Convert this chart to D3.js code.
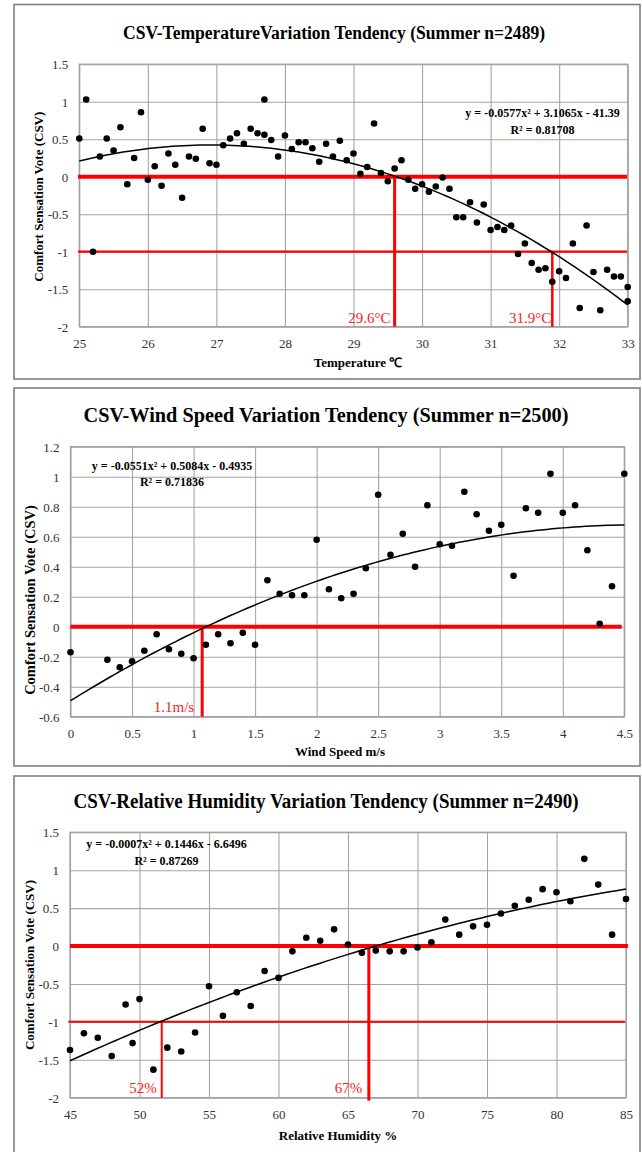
<!DOCTYPE html>
<html><head><meta charset="utf-8">
<script src="https://cdn.jsdelivr.net/npm/d3@7"></script>
<style>body{margin:0;background:#fff} svg{display:block}</style>
</head><body>
<svg id="c" width="642" height="1152"></svg>
<script>
// ---------- DATA ----------
const tempTitle = "CSV-TemperatureVariation Tendency (Summer n=2489)";
const tempX = [25,25.1,25.2,25.3,25.4,25.5,25.6,25.7,25.8,25.9,26,26.1,26.2,26.3,26.4,26.5,26.6,26.7,26.8,26.9,27,27.1,27.2,27.3,27.4,27.5,27.6,27.7,27.7,27.8,27.9,28,28.1,28.2,28.3,28.4,28.5,28.6,28.7,28.8,28.9,29,29.1,29.2,29.3,29.4,29.5,29.6,29.7,29.8,29.9,30,30.1,30.2,30.3,30.4,30.5,30.6,30.7,30.8,30.9,31,31.1,31.2,31.3,31.4,31.5,31.6,31.7,31.8,31.9,32,32.1,32.2,32.3,32.4,32.5,32.6,32.7,32.8,32.9,33,33];
const tempCSV = [0.51,1.03,-1.0,0.27,0.51,0.35,0.66,-0.10,0.25,0.86,-0.04,0.14,-0.12,0.31,0.16,-0.28,0.27,0.24,0.64,0.18,0.16,0.42,0.51,0.58,0.44,0.64,0.58,1.03,0.56,0.49,0.27,0.55,0.37,0.46,0.46,0.38,0.20,0.44,0.27,0.48,0.22,0.31,0.04,0.13,0.71,0.05,-0.06,0.11,0.22,-0.04,-0.16,-0.10,-0.20,-0.13,-0.01,-0.16,-0.54,-0.54,-0.34,-0.61,-0.37,-0.71,-0.67,-0.71,-0.65,-1.03,-0.89,-1.15,-1.24,-1.22,-1.40,-1.26,-1.35,-0.89,-1.75,-0.65,-1.27,-1.78,-1.24,-1.33,-1.33,-1.47,-1.66];
const tempTicksX = [25,26,27,28,29,30,31,32,33];
const tempTicksY = [-2,-1.5,-1,-0.5,0,0.5,1,1.5];
const tempTrend = [-0.0577, 3.1065, -41.39];
const tempEquation = ["y = -0.0577x² + 3.1065x - 41.39", "R² = 0.81708"];
const tempLevels = [0, -1];
const tempThresholds = [29.6, 31.9];
const tempThresholdLabels = ["29.6°C", "31.9°C"];

const windTitle = "CSV-Wind Speed Variation Tendency (Summer n=2500)";
const windX = [0,0.3,0.4,0.5,0.6,0.7,0.8,0.9,1.0,1.1,1.2,1.3,1.4,1.5,1.6,1.7,1.8,1.9,2.0,2.1,2.2,2.3,2.4,2.5,2.6,2.7,2.8,2.9,3.0,3.1,3.2,3.3,3.4,3.5,3.6,3.7,3.8,3.9,4.0,4.1,4.2,4.3,4.4,4.5];
const windCSV = [-0.17,-0.22,-0.27,-0.23,-0.16,-0.05,-0.15,-0.18,-0.21,-0.12,-0.05,-0.11,-0.04,-0.12,0.31,0.22,0.21,0.21,0.58,0.25,0.19,0.22,0.39,0.88,0.48,0.62,0.40,0.81,0.55,0.54,0.90,0.75,0.64,0.68,0.34,0.79,0.76,1.02,0.76,0.81,0.51,0.02,0.27,1.02];
const windTicksX = [0,0.5,1,1.5,2,2.5,3,3.5,4,4.5];
const windTicksY = [-0.6,-0.4,-0.2,0,0.2,0.4,0.6,0.8,1,1.2];
const windTrend = [-0.0551, 0.5084, -0.4935];
const windEquation = ["y = -0.0551x² + 0.5084x - 0.4935", "R² = 0.71836"];
const windLevels = [0];
const windThresholds = [1.07];
const windThresholdLabels = ["1.1m/s"];

const rhTitle = "CSV-Relative Humidity Variation Tendency (Summer n=2490)";
const rhX = [45,46,47,48,49,49.5,50,51,52,53,54,55,56,57,58,59,60,61,62,63,64,65,66,67,68,69,70,71,72,73,74,75,76,77,78,79,80,81,82,83,84,85];
const rhCSV = [-1.37,-1.15,-1.21,-1.45,-0.77,-1.28,-0.70,-1.63,-1.34,-1.39,-1.14,-0.53,-0.92,-0.61,-0.79,-0.33,-0.42,-0.07,0.11,0.07,0.22,0.02,-0.09,-0.06,-0.07,-0.07,-0.02,0.05,0.35,0.15,0.26,0.28,0.43,0.53,0.61,0.75,0.71,0.59,1.15,0.81,0.15,0.62];
const rhTicksX = [45,50,55,60,65,70,75,80,85];
const rhTicksY = [-2,-1.5,-1,-0.5,0,0.5,1,1.5];
const rhEquation = ["y = -0.0007x² + 0.1446x - 6.6496", "R² = 0.87269"];
const rhLevels = [0, -1];
const rhThresholds = [51.6, 66.5];
const rhThresholdLabels = ["52%", "67%"];

const yAxisTitle = "Comfort Sensation Vote (CSV)";

// least-squares quadratic fit (trend line of the plotted points)
function quadFit(xs, ys){
  let S=[0,0,0,0,0], T=[0,0,0];
  xs.forEach((x,i)=>{ let p=1; for(let k=0;k<5;k++){S[k]+=p; if(k<3) T[k]+=p*ys[i]; p*=x;} });
  const A=[[S[0],S[1],S[2],T[0]],[S[1],S[2],S[3],T[1]],[S[2],S[3],S[4],T[2]]];
  for(let i=0;i<3;i++){ for(let j=i+1;j<3;j++){ const f=A[j][i]/A[i][i]; for(let k=i;k<4;k++) A[j][k]-=f*A[i][k]; } }
  const c=[0,0,0];
  for(let i=2;i>=0;i--){ let s=A[i][3]; for(let k=i+1;k<3;k++) s-=A[i][k]*c[k]; c[i]=s/A[i][i]; }
  return [c[2], c[1], c[0]];
}
const rhTrend = quadFit(rhX, rhCSV);

// ---------- DRAW ----------
const svg = d3.select("#c");
const serif = "'Liberation Serif','Times New Roman',serif";

function panel(o){
  const g = svg.append("g");
  g.append("rect").attr("x",14).attr("y",o.frameTop).attr("width",626).attr("height",o.frameBottom-o.frameTop)
    .attr("fill","none").attr("stroke","#7f7f7f").attr("stroke-width",1.6);
  g.append("text").attr("x",o.titleX).attr("y",o.titleY).attr("text-anchor","middle")
    .attr("font-family",serif).attr("font-weight","bold").attr("font-size",o.titleSize)
    .attr("textLength",o.titleLen).attr("lengthAdjust","spacingAndGlyphs").text(o.title);

  const x = d3.scaleLinear().domain(d3.extent(o.ticksX)).range([o.left,o.right]);
  const y = d3.scaleLinear().domain(d3.extent(o.ticksY)).range([o.bottom,o.top]);

  const gx = g.append("g").attr("transform",`translate(0,${o.bottom})`)
    .call(d3.axisBottom(x).tickValues(o.ticksX).tickSize(-(o.bottom-o.top)).tickFormat(""));
  const gy = g.append("g").attr("transform",`translate(${o.left},0)`)
    .call(d3.axisLeft(y).tickValues(o.ticksY).tickSize(-(o.right-o.left)).tickFormat(""));
  [gx,gy].forEach(a=>{ a.select(".domain").remove(); a.selectAll("line").attr("stroke","#a5a5a5").attr("stroke-width",1.1); });
  g.append("rect").attr("x",o.left).attr("y",o.top).attr("width",o.right-o.left).attr("height",o.bottom-o.top)
    .attr("fill","none").attr("stroke","#a0a0a0").attr("stroke-width",1.3);

  const lx = g.append("g").attr("transform",`translate(0,${o.bottom})`)
    .call(d3.axisBottom(x).tickValues(o.ticksX).tickSize(0).tickFormat(d=>String(d)));
  const ly = g.append("g").attr("transform",`translate(${o.left},0)`)
    .call(d3.axisLeft(y).tickValues(o.ticksY).tickSize(0).tickFormat(d=>String(d)));
  [lx,ly].forEach(a=>{ a.select(".domain").remove(); a.selectAll("text").attr("font-family",serif).attr("font-size",13).attr("fill","#333"); });
  lx.selectAll("text").attr("dy",null).attr("y",17).attr("dominant-baseline","central");
  ly.selectAll("text").attr("dy",null).attr("x",-11).attr("dominant-baseline","central");

  g.append("text").attr("x",o.xTitleX).attr("y",o.xTitleY).attr("text-anchor","middle").attr("dominant-baseline","central")
    .attr("font-family",serif).attr("font-weight","bold").attr("font-size",13).text(o.xTitle);
  g.append("text").attr("transform",`translate(${o.yTitleX},${o.yTitleY}) rotate(-90)`).attr("text-anchor","middle")
    .attr("dominant-baseline","central").attr("font-family",serif).attr("font-weight","bold").attr("font-size",o.yTitleSize)
    .text(yAxisTitle);

  o.levels.forEach((lv,i)=>{
    g.append("line").attr("x1",o.hStart[i]!=null?o.hStart[i]:o.left).attr("x2",o.hEnd[i]).attr("y1",y(lv)).attr("y2",y(lv))
      .attr("stroke","#ff0000").attr("stroke-width",o.hWidth[i]);
  });
  o.thresholds.forEach((t,i)=>{
    g.append("line").attr("x1",x(t)).attr("x2",x(t)).attr("y1",y(o.thresholdLevels[i])).attr("y2",o.bottom+o.vExtra[i])
      .attr("stroke","#ff0000").attr("stroke-width",o.vWidth[i]);
    g.append("text").attr("x",x(t)-o.labelGap[i]).attr("y",o.bottom-o.labelUp).attr("text-anchor","end")
      .attr("dominant-baseline","central").attr("font-family",serif).attr("font-size",15).attr("fill","#ff2020")
      .text(o.thresholdLabels[i]);
  });

  const [a,b,c] = o.trend;
  const dom = x.domain();
  const xs = d3.range(0,101).map(i=>dom[0]+(dom[1]-dom[0])*i/100);
  g.append("path").attr("d", d3.line().x(d=>x(d)).y(d=>y(a*d*d+b*d+c))(xs))
    .attr("fill","none").attr("stroke","#000").attr("stroke-width",1.5);

  g.selectAll("circle.p").data(o.xs.map((v,i)=>[v,o.ys[i]])).join("circle")
    .attr("cx",d=>x(d[0])).attr("cy",d=>y(d[1])).attr("r",3.3).attr("fill","#000");

  o.equation.forEach((t,i)=>{
    g.append("text").attr("x",o.eqX).attr("y",o.eqY+i*16.5).attr("text-anchor","middle").attr("dominant-baseline","central")
      .attr("font-family",serif).attr("font-weight","bold").attr("font-size",12).text(t);
  });
}

panel({frameTop:4.5, frameBottom:379, title:tempTitle, titleX:334, titleY:39, titleSize:18, titleLen:422,
  left:79.3, right:627.7, top:64.2, bottom:326.7, ticksX:tempTicksX, ticksY:tempTicksY,
  xTitle:"Temperature ℃", xTitleX:358, xTitleY:362.7, yTitleX:38, yTitleY:196.7, yTitleSize:13,
  levels:tempLevels, hStart:[78,78], hEnd:[627,627], hWidth:[4,2.2],
  thresholds:tempThresholds, thresholdLevels:tempLevels, vWidth:[3,2.5], vExtra:[0,0], labelGap:[4,1], labelUp:9,
  thresholdLabels:tempThresholdLabels, trend:tempTrend, xs:tempX, ys:tempCSV,
  equation:tempEquation, eqX:542.5, eqY:113.3});

panel({frameTop:388, frameBottom:766, title:windTitle, titleX:326, titleY:421.6, titleSize:20, titleLen:485,
  left:70.5, right:624.3, top:446.7, bottom:716.7, ticksX:windTicksX, ticksY:windTicksY,
  xTitle:"Wind Speed m/s", xTitleX:340, xTitleY:751.7, yTitleX:29.5, yTitleY:600, yTitleSize:14.5,
  levels:windLevels, hStart:[70.5], hEnd:[621.7], hWidth:[4],
  thresholds:windThresholds, thresholdLevels:windLevels, vWidth:[3], vExtra:[0], labelGap:[8], labelUp:9.4,
  thresholdLabels:windThresholdLabels, trend:windTrend, xs:windX, ys:windCSV,
  equation:windEquation, eqX:172, eqY:465.7});

panel({frameTop:776, frameBottom:1170, title:rhTitle, titleX:326, titleY:808.3, titleSize:20, titleLen:505,
  left:70, right:626, top:832.3, bottom:1097.7, ticksX:rhTicksX, ticksY:rhTicksY,
  xTitle:"Relative Humidity %", xTitleX:338, xTitleY:1135, yTitleX:29, yTitleY:965, yTitleSize:13,
  levels:rhLevels, hStart:[70,68.3], hEnd:[628,625], hWidth:[4,2],
  thresholds:rhThresholds, thresholdLevels:[-1,0], vWidth:[2,3], vExtra:[0,3], labelGap:[5,6.6], labelUp:10,
  thresholdLabels:rhThresholdLabels, trend:rhTrend, xs:rhX, ys:rhCSV,
  equation:rhEquation, eqX:166.5, eqY:844.3});
</script>
</body></html>
